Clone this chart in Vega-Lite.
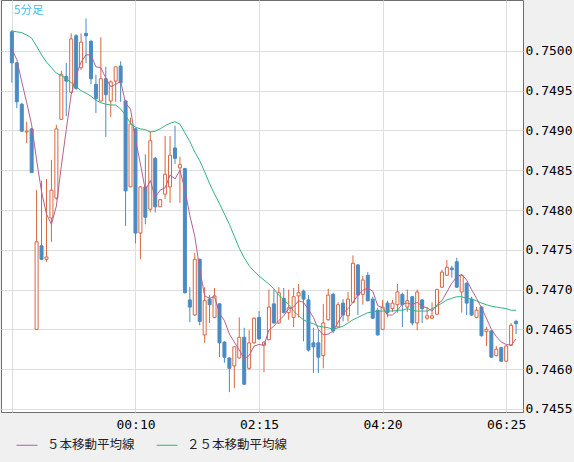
{
"$schema":"https://vega.github.io/schema/vega-lite/v6.json",
"width":522,"height":412,
"autosize":{"type":"none"},
"padding":{"left":1,"top":0,"right":51,"bottom":50},
"background":"#f0f0f0",
"title":{"text":"5分足","anchor":"start","frame":"group","orient":"top","baseline":"bottom","offset":-27,"dx":13,"fontSize":11.5,"fontWeight":"normal","color":"#3dbdf0","font":"Noto Sans CJK JP"},
"config":{
 "view":{"stroke":"#6e6e6e","fill":"#ffffff"},
 "legend":{"orient":"none","legendX":15,"legendY":434,"direction":"horizontal","symbolType":"stroke","symbolSize":441,"symbolStrokeWidth":1,"labelFont":"Noto Sans CJK JP","labelFontSize":12.5,"labelColor":"#222222","labelOffset":9,"columnPadding":19,"padding":0}
},
"data":{"values":[
{"t":"2024-01-01T22:05:00Z","o":0.75024,"h":0.75026,"l":0.74960,"c":0.74985,"m5":0.75002,"m25":0.75025},
{"t":"2024-01-01T22:10:00Z","o":0.74985,"h":0.74986,"l":0.74928,"c":0.74936,"m5":0.74989,"m25":0.75024},
{"t":"2024-01-01T22:15:00Z","o":0.74933,"h":0.74935,"l":0.74899,"c":0.74899,"m5":0.74961,"m25":0.75023},
{"t":"2024-01-01T22:20:00Z","o":0.74898,"h":0.74911,"l":0.74884,"c":0.74899,"m5":0.74935,"m25":0.75020},
{"t":"2024-01-01T22:25:00Z","o":0.74902,"h":0.74903,"l":0.74847,"c":0.74847,"m5":0.74907,"m25":0.75016},
{"t":"2024-01-01T22:30:00Z","o":0.74650,"h":0.74825,"l":0.74650,"c":0.74760,"m5":0.74863,"m25":0.75006},
{"t":"2024-01-01T22:35:00Z","o":0.74755,"h":0.74837,"l":0.74737,"c":0.74738,"m5":0.74823,"m25":0.74995},
{"t":"2024-01-01T22:40:00Z","o":0.74738,"h":0.74839,"l":0.74735,"c":0.74741,"m5":0.74795,"m25":0.74986},
{"t":"2024-01-01T22:45:00Z","o":0.74790,"h":0.74863,"l":0.74760,"c":0.74825,"m5":0.74782,"m25":0.74979},
{"t":"2024-01-01T22:50:00Z","o":0.74815,"h":0.74907,"l":0.74813,"c":0.74902,"m5":0.74805,"m25":0.74972},
{"t":"2024-01-01T22:55:00Z","o":0.74914,"h":0.74975,"l":0.74914,"c":0.74970,"m5":0.74855,"m25":0.74969},
{"t":"2024-01-01T23:00:00Z","o":0.74968,"h":0.74985,"l":0.74918,"c":0.74962,"m5":0.74901,"m25":0.74965},
{"t":"2024-01-01T23:05:00Z","o":0.74948,"h":0.75022,"l":0.74948,"c":0.75015,"m5":0.74945,"m25":0.74960},
{"t":"2024-01-01T23:10:00Z","o":0.75019,"h":0.75021,"l":0.74951,"c":0.74953,"m5":0.74969,"m25":0.74955},
{"t":"2024-01-01T23:15:00Z","o":0.74979,"h":0.75022,"l":0.74976,"c":0.75011,"m5":0.74986,"m25":0.74950},
{"t":"2024-01-01T23:20:00Z","o":0.75022,"h":0.75041,"l":0.74985,"c":0.75019,"m5":0.74995,"m25":0.74947},
{"t":"2024-01-01T23:25:00Z","o":0.75012,"h":0.75014,"l":0.74958,"c":0.74965,"m5":0.74995,"m25":0.74943},
{"t":"2024-01-01T23:30:00Z","o":0.74958,"h":0.74970,"l":0.74922,"c":0.74940,"m5":0.74980,"m25":0.74938},
{"t":"2024-01-01T23:35:00Z","o":0.74937,"h":0.75017,"l":0.74937,"c":0.74965,"m5":0.74979,"m25":0.74935},
{"t":"2024-01-01T23:40:00Z","o":0.74965,"h":0.74980,"l":0.74892,"c":0.74945,"m5":0.74966,"m25":0.74933},
{"t":"2024-01-01T23:45:00Z","o":0.74937,"h":0.74963,"l":0.74917,"c":0.74961,"m5":0.74955,"m25":0.74932},
{"t":"2024-01-01T23:50:00Z","o":0.74962,"h":0.74980,"l":0.74936,"c":0.74980,"m5":0.74958,"m25":0.74932},
{"t":"2024-01-01T23:55:00Z","o":0.74981,"h":0.74987,"l":0.74936,"c":0.74960,"m5":0.74962,"m25":0.74927},
{"t":"2024-01-02T00:00:00Z","o":0.74937,"h":0.74938,"l":0.74780,"c":0.74824,"m5":0.74934,"m25":0.74919},
{"t":"2024-01-02T00:05:00Z","o":0.74829,"h":0.74916,"l":0.74829,"c":0.74908,"m5":0.74927,"m25":0.74909},
{"t":"2024-01-02T00:10:00Z","o":0.74902,"h":0.74903,"l":0.74758,"c":0.74771,"m5":0.74889,"m25":0.74904},
{"t":"2024-01-02T00:15:00Z","o":0.74771,"h":0.74830,"l":0.74738,"c":0.74829,"m5":0.74858,"m25":0.74902},
{"t":"2024-01-02T00:20:00Z","o":0.74829,"h":0.74870,"l":0.74782,"c":0.74791,"m5":0.74825,"m25":0.74901},
{"t":"2024-01-02T00:25:00Z","o":0.74801,"h":0.74899,"l":0.74797,"c":0.74887,"m5":0.74837,"m25":0.74898},
{"t":"2024-01-02T00:30:00Z","o":0.74865,"h":0.74867,"l":0.74797,"c":0.74804,"m5":0.74816,"m25":0.74899},
{"t":"2024-01-02T00:35:00Z","o":0.74804,"h":0.74814,"l":0.74804,"c":0.74813,"m5":0.74825,"m25":0.74902},
{"t":"2024-01-02T00:40:00Z","o":0.74820,"h":0.74893,"l":0.74814,"c":0.74845,"m5":0.74828,"m25":0.74906},
{"t":"2024-01-02T00:45:00Z","o":0.74829,"h":0.74893,"l":0.74809,"c":0.74869,"m5":0.74844,"m25":0.74909},
{"t":"2024-01-02T00:50:00Z","o":0.74878,"h":0.74906,"l":0.74858,"c":0.74865,"m5":0.74839,"m25":0.74911},
{"t":"2024-01-02T00:55:00Z","o":0.74853,"h":0.74867,"l":0.74809,"c":0.74857,"m5":0.74850,"m25":0.74908},
{"t":"2024-01-02T01:00:00Z","o":0.74852,"h":0.74853,"l":0.74695,"c":0.74696,"m5":0.74826,"m25":0.74897},
{"t":"2024-01-02T01:05:00Z","o":0.74687,"h":0.74703,"l":0.74659,"c":0.74678,"m5":0.74793,"m25":0.74886},
{"t":"2024-01-02T01:10:00Z","o":0.74668,"h":0.74746,"l":0.74667,"c":0.74738,"m5":0.74767,"m25":0.74873},
{"t":"2024-01-02T01:15:00Z","o":0.74738,"h":0.74739,"l":0.74655,"c":0.74660,"m5":0.74726,"m25":0.74862},
{"t":"2024-01-02T01:20:00Z","o":0.74643,"h":0.74703,"l":0.74633,"c":0.74686,"m5":0.74692,"m25":0.74848},
{"t":"2024-01-02T01:25:00Z","o":0.74688,"h":0.74693,"l":0.74658,"c":0.74681,"m5":0.74689,"m25":0.74833},
{"t":"2024-01-02T01:30:00Z","o":0.74665,"h":0.74702,"l":0.74664,"c":0.74692,"m5":0.74691,"m25":0.74820},
{"t":"2024-01-02T01:35:00Z","o":0.74682,"h":0.74683,"l":0.74615,"c":0.74633,"m5":0.74670,"m25":0.74808},
{"t":"2024-01-02T01:40:00Z","o":0.74634,"h":0.74635,"l":0.74608,"c":0.74615,"m5":0.74661,"m25":0.74795},
{"t":"2024-01-02T01:45:00Z","o":0.74614,"h":0.74615,"l":0.74571,"c":0.74601,"m5":0.74644,"m25":0.74782},
{"t":"2024-01-02T01:50:00Z","o":0.74604,"h":0.74629,"l":0.74576,"c":0.74628,"m5":0.74634,"m25":0.74767},
{"t":"2024-01-02T01:55:00Z","o":0.74614,"h":0.74665,"l":0.74613,"c":0.74640,"m5":0.74624,"m25":0.74752},
{"t":"2024-01-02T02:00:00Z","o":0.74640,"h":0.74652,"l":0.74580,"c":0.74581,"m5":0.74613,"m25":0.74740},
{"t":"2024-01-02T02:05:00Z","o":0.74601,"h":0.74649,"l":0.74599,"c":0.74633,"m5":0.74617,"m25":0.74730},
{"t":"2024-01-02T02:10:00Z","o":0.74633,"h":0.74665,"l":0.74632,"c":0.74664,"m5":0.74629,"m25":0.74723},
{"t":"2024-01-02T02:15:00Z","o":0.74665,"h":0.74673,"l":0.74637,"c":0.74638,"m5":0.74631,"m25":0.74717},
{"t":"2024-01-02T02:20:00Z","o":0.74630,"h":0.74635,"l":0.74596,"c":0.74634,"m5":0.74630,"m25":0.74712},
{"t":"2024-01-02T02:25:00Z","o":0.74637,"h":0.74700,"l":0.74636,"c":0.74678,"m5":0.74649,"m25":0.74707},
{"t":"2024-01-02T02:30:00Z","o":0.74682,"h":0.74700,"l":0.74657,"c":0.74658,"m5":0.74654,"m25":0.74701},
{"t":"2024-01-02T02:35:00Z","o":0.74658,"h":0.74703,"l":0.74657,"c":0.74696,"m5":0.74661,"m25":0.74693},
{"t":"2024-01-02T02:40:00Z","o":0.74689,"h":0.74702,"l":0.74670,"c":0.74671,"m5":0.74667,"m25":0.74687},
{"t":"2024-01-02T02:45:00Z","o":0.74671,"h":0.74700,"l":0.74662,"c":0.74677,"m5":0.74676,"m25":0.74681},
{"t":"2024-01-02T02:50:00Z","o":0.74665,"h":0.74702,"l":0.74653,"c":0.74691,"m5":0.74678,"m25":0.74673},
{"t":"2024-01-02T02:55:00Z","o":0.74692,"h":0.74707,"l":0.74665,"c":0.74696,"m5":0.74686,"m25":0.74667},
{"t":"2024-01-02T03:00:00Z","o":0.74698,"h":0.74700,"l":0.74635,"c":0.74688,"m5":0.74684,"m25":0.74662},
{"t":"2024-01-02T03:05:00Z","o":0.74687,"h":0.74693,"l":0.74622,"c":0.74624,"m5":0.74675,"m25":0.74659},
{"t":"2024-01-02T03:10:00Z","o":0.74633,"h":0.74652,"l":0.74595,"c":0.74628,"m5":0.74665,"m25":0.74657},
{"t":"2024-01-02T03:15:00Z","o":0.74633,"h":0.74649,"l":0.74595,"c":0.74615,"m5":0.74650,"m25":0.74654},
{"t":"2024-01-02T03:20:00Z","o":0.74617,"h":0.74682,"l":0.74601,"c":0.74658,"m5":0.74643,"m25":0.74653},
{"t":"2024-01-02T03:25:00Z","o":0.74662,"h":0.74701,"l":0.74661,"c":0.74693,"m5":0.74644,"m25":0.74652},
{"t":"2024-01-02T03:30:00Z","o":0.74694,"h":0.74696,"l":0.74645,"c":0.74648,"m5":0.74648,"m25":0.74650},
{"t":"2024-01-02T03:35:00Z","o":0.74653,"h":0.74684,"l":0.74652,"c":0.74681,"m5":0.74659,"m25":0.74652},
{"t":"2024-01-02T03:40:00Z","o":0.74683,"h":0.74688,"l":0.74660,"c":0.74668,"m5":0.74670,"m25":0.74654},
{"t":"2024-01-02T03:45:00Z","o":0.74667,"h":0.74697,"l":0.74660,"c":0.74688,"m5":0.74676,"m25":0.74658},
{"t":"2024-01-02T03:50:00Z","o":0.74684,"h":0.74743,"l":0.74683,"c":0.74733,"m5":0.74684,"m25":0.74662},
{"t":"2024-01-02T03:55:00Z","o":0.74731,"h":0.74732,"l":0.74668,"c":0.74693,"m5":0.74693,"m25":0.74665},
{"t":"2024-01-02T04:00:00Z","o":0.74694,"h":0.74717,"l":0.74681,"c":0.74712,"m5":0.74699,"m25":0.74668},
{"t":"2024-01-02T04:05:00Z","o":0.74718,"h":0.74722,"l":0.74685,"c":0.74686,"m5":0.74702,"m25":0.74671},
{"t":"2024-01-02T04:10:00Z","o":0.74688,"h":0.74691,"l":0.74663,"c":0.74664,"m5":0.74698,"m25":0.74672},
{"t":"2024-01-02T04:15:00Z","o":0.74674,"h":0.74677,"l":0.74642,"c":0.74643,"m5":0.74680,"m25":0.74673},
{"t":"2024-01-02T04:20:00Z","o":0.74650,"h":0.74687,"l":0.74649,"c":0.74678,"m5":0.74677,"m25":0.74673},
{"t":"2024-01-02T04:25:00Z","o":0.74683,"h":0.74686,"l":0.74665,"c":0.74671,"m5":0.74668,"m25":0.74673},
{"t":"2024-01-02T04:30:00Z","o":0.74676,"h":0.74687,"l":0.74672,"c":0.74683,"m5":0.74668,"m25":0.74673},
{"t":"2024-01-02T04:35:00Z","o":0.74681,"h":0.74707,"l":0.74671,"c":0.74697,"m5":0.74674,"m25":0.74674},
{"t":"2024-01-02T04:40:00Z","o":0.74694,"h":0.74696,"l":0.74653,"c":0.74681,"m5":0.74682,"m25":0.74674},
{"t":"2024-01-02T04:45:00Z","o":0.74678,"h":0.74700,"l":0.74672,"c":0.74686,"m5":0.74683,"m25":0.74676},
{"t":"2024-01-02T04:50:00Z","o":0.74691,"h":0.74692,"l":0.74655,"c":0.74658,"m5":0.74681,"m25":0.74674},
{"t":"2024-01-02T04:55:00Z","o":0.74658,"h":0.74700,"l":0.74649,"c":0.74697,"m5":0.74684,"m25":0.74673},
{"t":"2024-01-02T05:00:00Z","o":0.74687,"h":0.74688,"l":0.74658,"c":0.74676,"m5":0.74679,"m25":0.74673},
{"t":"2024-01-02T05:05:00Z","o":0.74664,"h":0.74678,"l":0.74662,"c":0.74667,"m5":0.74677,"m25":0.74673},
{"t":"2024-01-02T05:10:00Z","o":0.74664,"h":0.74684,"l":0.74663,"c":0.74667,"m5":0.74673,"m25":0.74676},
{"t":"2024-01-02T05:15:00Z","o":0.74669,"h":0.74701,"l":0.74668,"c":0.74700,"m5":0.74681,"m25":0.74679},
{"t":"2024-01-02T05:20:00Z","o":0.74703,"h":0.74725,"l":0.74702,"c":0.74722,"m5":0.74686,"m25":0.74683},
{"t":"2024-01-02T05:25:00Z","o":0.74718,"h":0.74737,"l":0.74717,"c":0.74728,"m5":0.74697,"m25":0.74687},
{"t":"2024-01-02T05:30:00Z","o":0.74727,"h":0.74730,"l":0.74715,"c":0.74725,"m5":0.74708,"m25":0.74689},
{"t":"2024-01-02T05:35:00Z","o":0.74735,"h":0.74740,"l":0.74702,"c":0.74703,"m5":0.74716,"m25":0.74691},
{"t":"2024-01-02T05:40:00Z","o":0.74697,"h":0.74719,"l":0.74671,"c":0.74718,"m5":0.74719,"m25":0.74691},
{"t":"2024-01-02T05:45:00Z","o":0.74708,"h":0.74709,"l":0.74668,"c":0.74683,"m5":0.74712,"m25":0.74689},
{"t":"2024-01-02T05:50:00Z","o":0.74688,"h":0.74691,"l":0.74667,"c":0.74668,"m5":0.74700,"m25":0.74688},
{"t":"2024-01-02T05:55:00Z","o":0.74665,"h":0.74678,"l":0.74664,"c":0.74674,"m5":0.74689,"m25":0.74686},
{"t":"2024-01-02T06:00:00Z","o":0.74678,"h":0.74679,"l":0.74641,"c":0.74642,"m5":0.74677,"m25":0.74683},
{"t":"2024-01-02T06:05:00Z","o":0.74647,"h":0.74653,"l":0.74629,"c":0.74650,"m5":0.74664,"m25":0.74681},
{"t":"2024-01-02T06:10:00Z","o":0.74648,"h":0.74649,"l":0.74614,"c":0.74615,"m5":0.74650,"m25":0.74679},
{"t":"2024-01-02T06:15:00Z","o":0.74617,"h":0.74629,"l":0.74616,"c":0.74625,"m5":0.74641,"m25":0.74678},
{"t":"2024-01-02T06:20:00Z","o":0.74627,"h":0.74628,"l":0.74609,"c":0.74610,"m5":0.74634,"m25":0.74677},
{"t":"2024-01-02T06:25:00Z","o":0.74610,"h":0.74630,"l":0.74609,"c":0.74629,"m5":0.74631,"m25":0.74676},
{"t":"2024-01-02T06:30:00Z","o":0.74630,"h":0.74658,"l":0.74629,"c":0.74655,"m5":0.74630,"m25":0.74674},
{"t":"2024-01-02T06:35:00Z","o":0.74660,"h":0.74662,"l":0.74644,"c":0.74657,"m5":0.74638,"m25":0.74674}
]},
"layer":[
{"mark":{"type":"rule","strokeWidth":1},
 "encoding":{
  "x":{"field":"t","type":"temporal","scale":{"type":"utc","domain":[1704146343000,1704177417000]},
       "axis":{"values":[1704146700000,1704154200000,1704161700000,1704169200000,1704176700000],"labelExpr":"utcFormat(datum.value,'%H')=='22' ? '' : utcFormat(datum.value,'%H:%M')","title":null,"tickSize":0,"domain":false,"labelPadding":6,"labelFont":"DejaVu Sans Mono","labelFontSize":13,"labelColor":"#000000","gridColor":"#dedede","grid":true,"labelFlush":false,"labelOverlap":false}},
  "y":{"field":"l","type":"quantitative","scale":{"domain":[0.745461,0.75064],"zero":false,"nice":false},
       "axis":{"orient":"right","values":[0.7455,0.746,0.7465,0.747,0.7475,0.748,0.7485,0.749,0.7495,0.75],"format":".4f","title":null,"tickSize":0,"domain":false,"labelPadding":2,"labelFont":"DejaVu Sans Mono","labelFontSize":13,"labelColor":"#000000","gridColor":"#dedede","grid":true,"labelFlush":false,"labelOverlap":false}},
  "y2":{"field":"h"},
  "color":{"condition":{"test":"datum.c >= datum.o","value":"#d9663f"},"value":"#4b8bc4"}
 }},
{"mark":{"type":"bar","size":3,"strokeWidth":1},
 "encoding":{
  "x":{"field":"t","type":"temporal"},
  "y":{"field":"o","type":"quantitative"},
  "y2":{"field":"c"},
  "fill":{"condition":{"test":"datum.c >= datum.o","value":"#ffffff"},"value":"#4b8bc4"},
  "stroke":{"condition":{"test":"datum.c >= datum.o","value":"#d9663f"},"value":"#4b8bc4"}
 }},
{"mark":{"type":"line","strokeWidth":1},
 "encoding":{
  "x":{"field":"t","type":"temporal"},
  "y":{"field":"m5","type":"quantitative"},
  "color":{"datum":"５本移動平均線","type":"nominal","scale":{"domain":["５本移動平均線","２５本移動平均線"],"range":["#b5608f","#2fb57f"]},"legend":{"title":null}}
 }},
{"mark":{"type":"line","strokeWidth":1},
 "encoding":{
  "x":{"field":"t","type":"temporal"},
  "y":{"field":"m25","type":"quantitative"},
  "color":{"datum":"２５本移動平均線","type":"nominal"}
 }}
]
}
